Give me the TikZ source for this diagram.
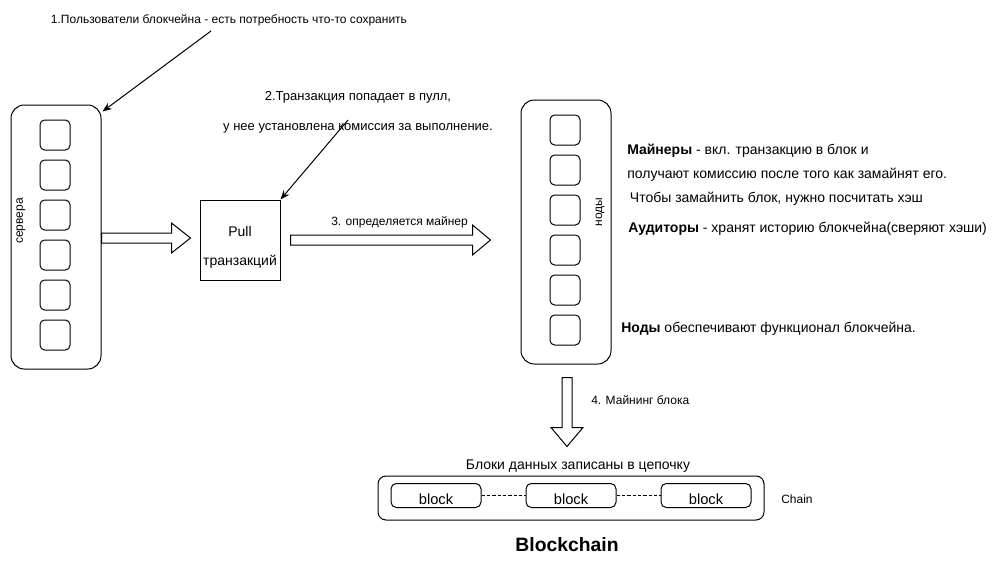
\documentclass[tikz,border=0pt]{standalone}
\usepackage{fontspec}
\setmainfont{Liberation Sans}
\usetikzlibrary{arrows.meta,calc}
\tikzset{
  container/.style = {draw=black, rounded corners=10pt, line width=0.75pt, minimum width=67.5pt, minimum height=198pt, inner sep=0pt},
  slot/.style = {draw=black, rounded corners=3.5pt, line width=0.75pt, minimum size=22.5pt, inner sep=0pt},
  poolbox/.style = {draw=black, line width=0.75pt, minimum size=60pt, inner sep=0pt},
  chainbox/.style = {draw=black, rounded corners=6pt, line width=0.75pt, minimum width=289.5pt, minimum height=33pt, inner sep=0pt},
  chainblock/.style = {draw=black, rounded corners=4pt, line width=0.75pt, minimum width=67.5pt, minimum height=18pt, inner sep=0pt, font=\fontsize{11}{13}\selectfont, text height=14pt, text depth=0pt},
  note/.style = {inner sep=0pt, font=\fontsize{9}{11}\selectfont},
  bignote/.style = {inner sep=0pt, font=\fontsize{10.5}{18}\selectfont},
  link/.style = {line width=0.75pt, -{Stealth[length=7pt,width=5.5pt]}},
  fatarrow/.style = {draw=black, fill=white, line width=0.75pt},
}
\begin{document}
\begin{tikzpicture}[x=0.75pt,y=-0.75pt]
\useasboundingbox (0,0) rectangle (997,564);
% servers column
\node [container] (srv) at (56,237) {};
\foreach \i in {1,...,6}
  \node [slot] (srv\i) at (55,95+40*\i) {};
\node [note, rotate=90] (srvlabel) at (21,221) {сервера};
% nodes column
\node [container] (nds) at (566,232) {};
\foreach \i in {1,...,6}
  \node [slot] (nds\i) at (565,90+40*\i) {};
\node [note, rotate=90] (ndslabel) at (600,212) {ноды};
% transaction pool
\node [poolbox] (pull) at (240,240) {};
\node [note, align=center, font=\fontsize{10.5}{21.75}\selectfont] (pulltext) at ([yshift=-5.5pt]pull.center) {Pull\\транзакций};
% step notes
\node [note] (note1) at (229,20) {1.Пользователи блокчейна - есть потребность что-то сохранить};
\node [note, align=center, font=\fontsize{9.75}{22.5}\selectfont] (note2) at (358,112) {2.Транзакция попадает в пулл,\\у нее установлена комиссия за выполнение.};
\node [note, anchor=west] (note3) at (331,222) {3. определяется майнер};
\node [note, anchor=west] (note4) at (591,400) {4. Майнинг блока};
% roles
\node [bignote, anchor=west, align=left] (miners) at (627,175) {\textbf{Майнеры} - вкл. транзакцию в блок и\\получают комиссию после того как замайнят его.\\\hspace*{2pt}Чтобы замайнить блок, нужно посчитать хэш};
\node [bignote, anchor=west] (auditors) at (628,229) {\textbf{Аудиторы} - хранят историю блокчейна(сверяют хэши)};
\node [bignote, anchor=west] (nodesnote) at (621,329) {\textbf{Ноды} обеспечивают функционал блокчейна.};
% chain
\node [bignote] (chaintitle) at (578,466) {Блоки данных записаны в цепочку};
\node [chainbox] (chain) at (571,498) {};
\foreach \i/\xx in {1/436,2/571,3/706}
  \node [chainblock] (blk\i) at (\xx,495.5) {block};
\draw [line width=0.75pt, dash pattern=on 2.5pt off 1.5pt] (blk1) -- (blk2) (blk2) -- (blk3);
\node [note, anchor=west] (chainlabel) at (781,499) {Chain};
\node [inner sep=0pt, font=\bfseries\fontsize{14.5}{16}\selectfont] (title) at (567,545) {Blockchain};
% thin arrows
\coordinate (from1) at (211,31);
\draw [link] (from1) -- ($(srv.north east)+(1,7)$);
\coordinate (from2) at (348,120);
\draw [link] (from2) -- (pull.north east);
% block arrows
\draw [fatarrow] ($(srv.east)+(0,-4)$) -- ++(70,0) -- ++(0,-10) -- ++(19,15) -- ++(-19,15) -- ++(0,-10) -- ++(-70,0) -- cycle;
\draw [fatarrow] ($(pull.east)+(10,-5)$) -- ++(182,0) -- ++(0,-10) -- ++(18,15) -- ++(-18,15) -- ++(0,-10) -- ++(-182,0) -- cycle;
\draw [fatarrow] ($(nds.south)+(-4,13)$) -- ++(10,0) -- ++(0,50) -- ++(11,0) -- ++(-16,19) -- ++(-16,-19) -- ++(11,0) -- cycle;
\end{tikzpicture}
\end{document}
